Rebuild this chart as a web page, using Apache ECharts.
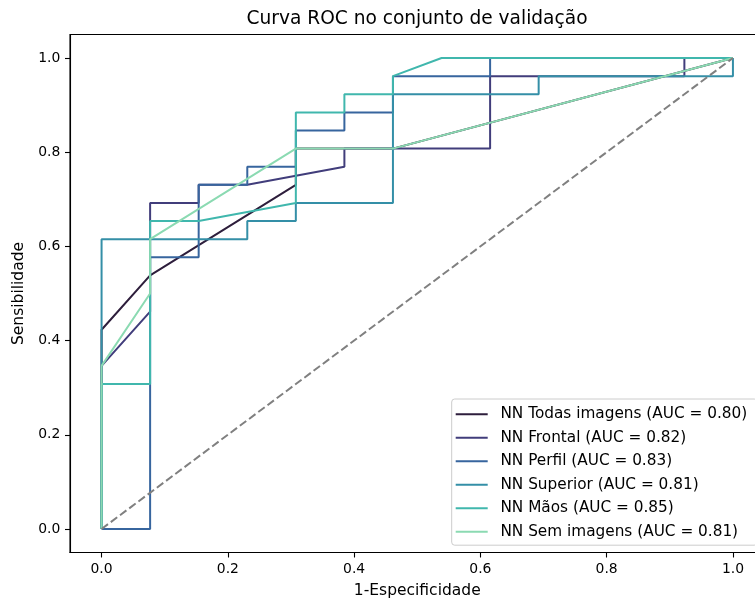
<!DOCTYPE html>
<html>
<head>
<meta charset="utf-8">
<script src="https://cdn.jsdelivr.net/npm/echarts@6/dist/echarts.min.js"></script>
<style>html,body{margin:0;padding:0;background:#fff}#c{width:755px;height:603px}</style>
</head>
<body>
<div id="c"></div>
<script>
const seriesNames = [
  'NN Todas imagens (AUC = 0.80)',
  'NN Frontal (AUC = 0.82)',
  'NN Perfil (AUC = 0.83)',
  'NN Superior (AUC = 0.81)',
  'NN Mãos (AUC = 0.85)',
  'NN Sem imagens (AUC = 0.81)'
];
const colors = ['#2e1e3c', '#413d7b', '#37659e', '#348fa7', '#40b7ad', '#8bdab2'];

const todasFpr = [0, 0, 0.0769, 0.3077, 0.3077, 0.4615, 1];
const todasTpr = [0, 0.4231, 0.5385, 0.7308, 0.8077, 0.8077, 1];

const frontalFpr = [0, 0, 0.0769, 0.0769, 0.1538, 0.1538, 0.2308, 0.3846, 0.3846, 0.6154, 0.6154, 0.9231, 0.9231, 1];
const frontalTpr = [0, 0.3462, 0.4615, 0.6923, 0.6923, 0.7308, 0.7308, 0.7692, 0.8077, 0.8077, 0.9615, 0.9615, 1, 1];

const perfilFpr = [0, 0.0769, 0.0769, 0.1538, 0.1538, 0.2308, 0.2308, 0.3077, 0.3077, 0.3846, 0.3846, 0.4615, 0.4615, 0.6154, 0.6154, 1];
const perfilTpr = [0, 0, 0.5769, 0.5769, 0.7308, 0.7308, 0.7692, 0.7692, 0.8462, 0.8462, 0.8846, 0.8846, 0.9615, 0.9615, 1, 1];

const superiorFpr = [0, 0, 0.2308, 0.2308, 0.3077, 0.3077, 0.4615, 0.4615, 0.6923, 0.6923, 1, 1];
const superiorTpr = [0, 0.6154, 0.6154, 0.6538, 0.6538, 0.6923, 0.6923, 0.9231, 0.9231, 0.9615, 0.9615, 1];

const maosFpr = [0, 0, 0.0769, 0.0769, 0.1538, 0.3077, 0.3077, 0.3846, 0.3846, 0.4615, 0.4615, 0.5385, 1];
const maosTpr = [0, 0.3077, 0.3077, 0.6538, 0.6538, 0.6923, 0.8846, 0.8846, 0.9231, 0.9231, 0.9615, 1, 1];

const semFpr = [0, 0, 0.0769, 0.0769, 0.3077, 0.4615, 1];
const semTpr = [0, 0.3462, 0.5, 0.6154, 0.8077, 0.8077, 1];

const chanceFpr = [0, 1];
const chanceTpr = [0, 1];

const tickValues = [0, 0.2, 0.4, 0.6, 0.8, 1.0];

const curves = [
  [todasFpr, todasTpr],
  [frontalFpr, frontalTpr],
  [perfilFpr, perfilTpr],
  [superiorFpr, superiorTpr],
  [maosFpr, maosTpr],
  [semFpr, semTpr]
];
const zip = (a, b) => a.map((v, i) => [v, b[i]]);
const FONT = 'DejaVu Sans';

const series = curves.map((c, i) => ({
  name: seriesNames[i],
  type: 'line',
  data: zip(c[0], c[1]),
  symbol: 'none',
  lineStyle: { color: colors[i], width: 2 },
  itemStyle: { color: colors[i] },
  animation: false
}));
series.push({
  name: 'chance',
  type: 'line',
  data: zip(chanceFpr, chanceTpr),
  symbol: 'none',
  lineStyle: { color: '#808080', width: 2, type: [8, 3.5] },
  animation: false
});

const axisCommon = {
  type: 'value',
  min: -0.05,
  max: 1.05,
  splitLine: { show: false },
  axisLine: { show: true, onZero: false, lineStyle: { color: '#000', width: 1.1 } },
  axisTick: { show: true, customValues: tickValues, length: 5, lineStyle: { color: '#000', width: 1.1 } },
  axisLabel: {
    customValues: tickValues,
    formatter: v => v.toFixed(1),
    fontFamily: FONT, fontSize: 13.9, color: '#000', margin: 9.7
  },
  nameLocation: 'middle',
  nameTextStyle: { fontFamily: FONT, fontSize: 15.5, color: '#000' }
};

const chart = echarts.init(document.getElementById('c'), null, { renderer: 'canvas' });
chart.setOption({
  animation: false,
  backgroundColor: '#fff',
  title: {
    text: 'Curva ROC no conjunto de validação',
    left: 412, top: 5, textAlign: 'center',
    textStyle: { fontFamily: FONT, fontSize: 18.6, fontWeight: 'normal', color: '#000' }
  },
  grid: {
    left: 70, top: 34.5, width: 694.5, height: 518,
    show: true, borderColor: '#000', borderWidth: 1.1,
    containLabel: false, outerBoundsMode: 'none'
  },
  xAxis: Object.assign({}, axisCommon, { name: '1-Especificidade', nameGap: 30 }),
  yAxis: Object.assign({}, axisCommon, { name: 'Sensibilidade', nameGap: 41, nameRotate: 90 }),
  legend: {
    data: seriesNames,
    orient: 'vertical',
    left: 451.7, top: 399,
    icon: 'rect', itemWidth: 32, itemHeight: 2, itemGap: 7.5,
    padding: [7.2, 10, 5.5, 4],
    backgroundColor: 'rgba(255,255,255,0.8)',
    borderColor: '#cccccc', borderWidth: 1, borderRadius: 3,
    selectedMode: false,
    textStyle: { fontFamily: FONT, fontSize: 15.3, color: '#000', lineHeight: 16, padding: [0, 0, 0, 7.7] }
  },
  series: series
});
</script>
</body>
</html>
